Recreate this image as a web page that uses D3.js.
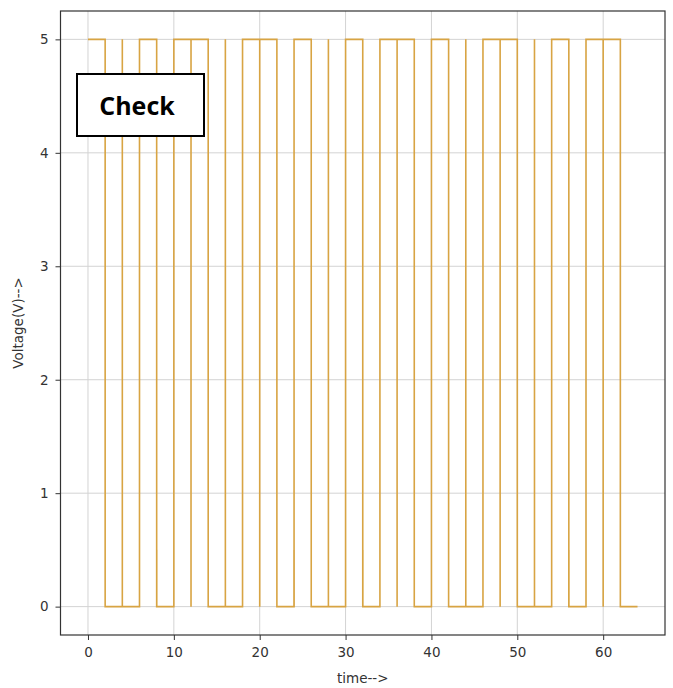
<!DOCTYPE html>
<html>
<head>
<meta charset="utf-8">
<script src="https://cdn.jsdelivr.net/npm/d3@7/dist/d3.min.js"></script>
<style>
  html, body { margin: 0; padding: 0; background: #fff; }
  svg { display: block; }
</style>
</head>
<body>
<svg id="chart" width="673" height="688"></svg>
<script>
// Bit stream, each bit held for 2 time units
const bits = [1,0,0,1,0,1,1,0,0,1,1,0,1,0,0,1,0,1,1,0,1,0,0,1,1,0,0,1,0,1,1,0];
const bitWidth = 2;
const highLevel = 5;
const lowLevel = 0;
// Short residual marks near the low level
const markTimes = [8, 24, 32, 56];
const markHeight = 0.5;
const xTicks = [0, 10, 20, 30, 40, 50, 60];
const yTicks = [0, 1, 2, 3, 4, 5];
const xLabel = "time-->";
const yLabel = "Voltage(V)-->";
const noteText = "Check";

const plot = { left: 60.5, right: 665, top: 11, bottom: 635 };

const svg = d3.select("#chart");
const x = d3.scaleLinear().domain([-3.2, 67.2]).range([plot.left, plot.right]);
const y = d3.scaleLinear().domain([-0.25, 5.25]).range([plot.bottom, plot.top]);

// Grid
const grid = svg.append("g");
grid.selectAll("line.vx").data(xTicks).join("line")
  .attr("x1", d => x(d)).attr("x2", d => x(d))
  .attr("y1", plot.top).attr("y2", plot.bottom)
  .attr("stroke", "#d3d3d3").attr("stroke-width", 1);
grid.selectAll("line.hy").data(yTicks).join("line")
  .attr("x1", plot.left).attr("x2", plot.right)
  .attr("y1", d => y(d)).attr("y2", d => y(d))
  .attr("stroke", "#d3d3d3").attr("stroke-width", 1);

// Signal path
const pts = [];
bits.forEach((b, i) => {
  const t = i * bitWidth;
  const v = b ? highLevel : lowLevel;
  if (i > 0 && bits[i - 1] === b) {
    const other = b ? lowLevel : highLevel;
    pts.push([t, other]);
    pts.push([t, v]);
  }
  pts.push([t, v]);
  pts.push([t + bitWidth, v]);
});

const line = d3.line().x(d => x(d[0])).y(d => y(d[1]));
svg.append("path")
  .attr("d", line(pts))
  .attr("fill", "none")
  .attr("stroke", "#d8a443")
  .attr("stroke-width", 1.6)
  .attr("stroke-linejoin", "miter");

svg.append("g").selectAll("line").data(markTimes).join("line")
  .attr("x1", d => x(d)).attr("x2", d => x(d))
  .attr("y1", y(lowLevel)).attr("y2", y(markHeight))
  .attr("stroke", "#d8a443").attr("stroke-opacity", 0.45)
  .attr("stroke-width", 1.4);

// Axes
const xAxis = d3.axisBottom(x).tickValues(xTicks).tickFormat(d3.format("d")).tickSize(5).tickPadding(7);
const yAxis = d3.axisLeft(y).tickValues(yTicks).tickFormat(d3.format("d")).tickSize(5).tickPadding(7);

const gx = svg.append("g").attr("transform", `translate(0,${plot.bottom})`).call(xAxis);
const gy = svg.append("g").attr("transform", `translate(${plot.left},0)`).call(yAxis);
[gx, gy].forEach(g => {
  g.select(".domain").remove();
  g.selectAll(".tick line").attr("stroke", "#333");
  g.selectAll(".tick text")
    .attr("fill", "#333")
    .attr("font-family", "DejaVu Sans, sans-serif")
    .attr("font-size", 13.5);
});

// Frame
svg.append("rect")
  .attr("x", plot.left).attr("y", plot.top)
  .attr("width", plot.right - plot.left).attr("height", plot.bottom - plot.top)
  .attr("fill", "none").attr("stroke", "#333").attr("stroke-width", 1.2);

// Axis labels
svg.append("text")
  .attr("x", (plot.left + plot.right) / 2).attr("y", 683)
  .attr("text-anchor", "middle")
  .attr("font-family", "DejaVu Sans, sans-serif").attr("font-size", 13.5)
  .attr("fill", "#333").text(xLabel);
svg.append("text")
  .attr("transform", `translate(23,${(plot.top + plot.bottom) / 2}) rotate(-90)`)
  .attr("text-anchor", "middle")
  .attr("font-family", "DejaVu Sans, sans-serif").attr("font-size", 13.5)
  .attr("fill", "#333").text(yLabel);

// Note box
const note = svg.append("g");
note.append("rect")
  .attr("x", 77).attr("y", 74).attr("width", 127).attr("height", 62)
  .attr("fill", "#fff").attr("stroke", "#000").attr("stroke-width", 2);
note.append("text")
  .attr("x", 137).attr("y", 115)
  .attr("text-anchor", "middle")
  .attr("font-family", "Open Sans, Liberation Sans, sans-serif")
  .attr("font-weight", "bold").attr("font-size", 25)
  .attr("fill", "#000").text(noteText);
</script>
</body>
</html>
